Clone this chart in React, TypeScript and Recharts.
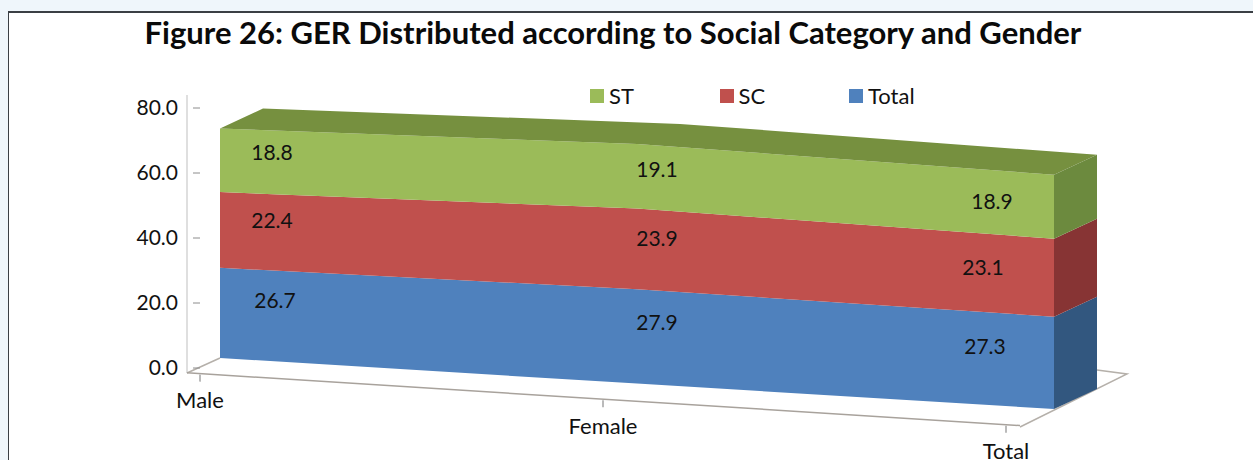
import { AreaChart, Area, XAxis, YAxis, Legend, LabelList, Customized } from "recharts";

const categories = ["Male", "Female", "Total"];
const totalValues = [26.7, 27.9, 27.3];
const scValues = [22.4, 23.9, 23.1];
const stValues = [18.8, 19.1, 18.9];
const yTicks = [0, 20, 40, 60, 80];

const chartData = categories.map((name, i) => ({
  name,
  total: totalValues[i],
  sc: scValues[i],
  st: stValues[i],
}));

const WIDTH = 1253;
const HEIGHT = 460;
const FONT = "Lato, 'Noto Sans', sans-serif";
const TEXT_COLOR = "#111";

// the chart is an Excel 3D area: front face sheared downwards, extruded backwards
const FRONT_SLOPE = 0.0611;
const FLOOR_SLOPE = 0.0633;
const DEPTH_X = 43;
const DEPTH_Y = -20 - FRONT_SLOPE * DEPTH_X;
const PLOT_HEIGHT = 270.4;
const PX_PER_UNIT = PLOT_HEIGHT / 80;

const BLUE = { front: "#4f81bd", side: "#32577f" };
const RED = { front: "#c0504d", side: "#873434" };
const GREEN = { front: "#9bbb59", side: "#6c8a3e", top: "#76903f" };

const sheared = (slope: number): React.CSSProperties => ({
  position: "absolute",
  left: 0,
  top: 0,
  transformOrigin: "0 0",
  transform: `matrix(1, ${slope}, 0, 1, 0, 0)`,
});

// draws the depth faces from the points the Area was laid out with
const extrudedFaces = (sideColor: string, withTop: boolean) => (props: any) => {
  const { index, points, value, key } = props;
  const pts = points as { x: number; y: number }[];
  const p = pts[index];
  if (index === 0 && withTop) {
    const front = pts.map((q) => `${q.x},${q.y}`);
    const back = [...pts].reverse().map((q) => `${q.x + DEPTH_X},${q.y + DEPTH_Y}`);
    return <polygon key={key ?? index} points={[...front, ...back].join(" ")} fill={GREEN.top} />;
  }
  if (index === pts.length - 1) {
    const band = Array.isArray(value) ? value[1] - value[0] : value;
    const bottom = p.y + band * PX_PER_UNIT;
    return (
      <polygon
        key={key ?? index}
        fill={sideColor}
        points={`${p.x},${p.y} ${p.x + DEPTH_X},${p.y + DEPTH_Y} ${p.x + DEPTH_X},${bottom + DEPTH_Y} ${p.x},${bottom}`}
      />
    );
  }
  return <g key={key ?? index} />;
};

const valueLabel = (dxs: number[], dys: number[]) => (props: any) => {
  const { x, y, value, index } = props;
  const lx = x + dxs[index];
  const ly = y + dys[index];
  return (
    <text
      key={index}
      transform={`translate(${lx},${ly}) matrix(1,${-FRONT_SLOPE},0,1,0,0)`}
      textAnchor="middle"
      dominantBaseline="central"
      fontFamily={FONT}
      fontSize={21}
      fill={TEXT_COLOR}
    >
      {Number(value).toFixed(1)}
    </text>
  );
};

const CategoryTick = (props: any) => {
  const { x, y, payload } = props;
  return (
    <g>
      <line x1={x} x2={x} y1={y} y2={y - 7} stroke="#8c8c8c" strokeWidth={1.2} />
      <text
        transform={`translate(${x},${y + 18}) matrix(1,${-FLOOR_SLOPE},0,1,0,0)`}
        textAnchor="middle"
        dominantBaseline="central"
        fontFamily={FONT}
        fontSize={22}
        fill={TEXT_COLOR}
      >
        {payload.value}
      </text>
    </g>
  );
};

const FloorLines = () => (
  <g fill="none" stroke="#b5b0aa" strokeWidth={1.5}>
    <line x1={187} y1={95} x2={187} y2={373} stroke="#d4d4d4" />
    <line x1={187} y1={373} x2={220} y2={358} />
    <polyline points="1020,427 1127,374 1097,370" />
  </g>
);

const legendOrder = [
  { label: "ST", color: GREEN.front },
  { label: "SC", color: RED.front },
  { label: "Total", color: BLUE.front },
];

const LegendRow = () => (
  <div style={{ display: "flex", fontFamily: FONT, fontSize: 22, color: TEXT_COLOR, lineHeight: "24px" }}>
    {legendOrder.map((item) => (
      <div key={item.label} style={{ width: 129.5, display: "flex", alignItems: "center" }}>
        <span style={{ width: 14, height: 14, background: item.color, marginRight: 5 }} />
        {item.label}
      </div>
    ))}
  </div>
);

export default function App() {
  return (
    <div
      style={{
        position: "absolute",
        left: 0,
        top: 0,
        width: WIDTH,
        height: HEIGHT,
        overflow: "hidden",
        background: "#eff6fb",
      }}
    >
      <div
        style={{
          position: "absolute",
          left: 8,
          top: 11,
          width: WIDTH,
          height: HEIGHT,
          background: "#fff",
          borderLeft: "1.5px solid #3a3f44",
          borderTop: "2px solid #3a3f44",
        }}
      />
      <div
        style={{
          position: "absolute",
          left: 0,
          width: 1226,
          top: 12,
          textAlign: "center",
          fontFamily: FONT,
          fontWeight: 700,
          fontSize: 31,
          lineHeight: "40px",
          color: "#0a0a0a",
        }}
      >
        Figure 26: GER Distributed according to Social Category and Gender
      </div>

      {/* value axis, legend and floor outline */}
      <div style={{ position: "absolute", left: 0, top: 0 }}>
        <AreaChart width={WIDTH} height={HEIGHT} data={chartData} margin={{ top: 108, right: 0, bottom: 68, left: 0 }}>
          <XAxis dataKey="name" hide />
          <YAxis
            width={200}
            domain={[0, 80]}
            ticks={yTicks}
            tickFormatter={(v: number) => v.toFixed(1)}
            axisLine={false}
            tickSize={7}
            tickMargin={15}
            tickLine={{ stroke: "#8c8c8c" }}
            tick={{ fontFamily: FONT, fontSize: 21, fill: TEXT_COLOR }}
          />
          <Area dataKey="total" fillOpacity={0} stroke="none" isAnimationActive={false} />
          <Legend
            content={<LegendRow />}
            wrapperStyle={{ position: "absolute", left: 590, top: 84, width: 400, bottom: "auto" }}
          />
          <Customized component={FloorLines} />
        </AreaChart>
      </div>

      {/* category axis along the front edge of the floor */}
      <div style={sheared(FLOOR_SLOPE)}>
        <AreaChart width={WIDTH} height={HEIGHT} data={chartData} margin={{ top: 10, right: 233, bottom: 39, left: 187 }}>
          <XAxis
            dataKey="name"
            scale="point"
            padding={{ left: 13, right: 14 }}
            height={60}
            axisLine={{ stroke: "#a8a29c", strokeWidth: 1.5 }}
            tickLine={false}
            tick={<CategoryTick />}
            interval={0}
          />
          <YAxis hide domain={[0, 80]} />
          <Area dataKey="total" fillOpacity={0} stroke="none" isAnimationActive={false} />
        </AreaChart>
      </div>

      {/* stacked body */}
      <div style={sheared(FRONT_SLOPE)}>
        <AreaChart width={WIDTH} height={HEIGHT} data={chartData} margin={{ top: 74.2, right: 199, bottom: 115.4, left: 220 }}>
          <XAxis dataKey="name" hide />
          <YAxis hide domain={[0, 80]} />
          <Area
            dataKey="total"
            stackId="1"
            type="linear"
            fill={BLUE.front}
            fillOpacity={1}
            stroke="none"
            dot={extrudedFaces(BLUE.side, false)}
            isAnimationActive={false}
          >
            <LabelList dataKey="total" content={valueLabel([55, 20, -69], [28, 31, 33])} />
          </Area>
          <Area
            dataKey="sc"
            stackId="1"
            type="linear"
            fill={RED.front}
            fillOpacity={1}
            stroke="none"
            dot={extrudedFaces(RED.side, false)}
            isAnimationActive={false}
          >
            <LabelList dataKey="sc" content={valueLabel([52, 20, -71], [24, 28, 32])} />
          </Area>
          <Area
            dataKey="st"
            stackId="1"
            type="linear"
            fill={GREEN.front}
            fillOpacity={1}
            stroke="none"
            dot={extrudedFaces(GREEN.side, true)}
            isAnimationActive={false}
          >
            <LabelList dataKey="st" content={valueLabel([52, 20, -62], [20, 23, 30])} />
          </Area>
        </AreaChart>
      </div>
    </div>
  );
}
